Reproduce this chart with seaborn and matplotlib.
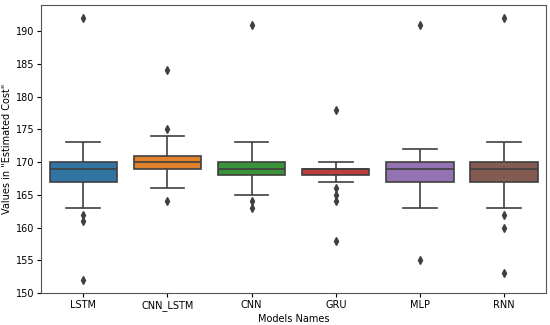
import pandas as pd
import matplotlib
matplotlib.use("Agg")
import matplotlib.pyplot as plt
import seaborn as sns

models = ['LSTM', 'CNN_LSTM', 'CNN', 'GRU', 'MLP', 'RNN']

lstm = [152, 161, 162, 163, 165, 167, 167, 168, 168, 169, 169, 169, 170, 170, 170, 170, 171, 172, 173, 173, 192]
cnn_lstm = [164, 166, 167, 168, 169, 169, 169, 170, 170, 170, 170, 170, 171, 171, 171, 171, 172, 173, 174, 175, 184]
cnn = [163, 164, 165, 166, 167, 168, 168, 168, 169, 169, 169, 169, 169, 170, 170, 170, 171, 171, 172, 173, 191]
gru = [158, 164, 165, 166, 167, 168, 168, 168, 168, 169, 169, 169, 169, 169, 169, 169, 169, 170, 170, 170, 178]
mlp = [155, 163, 164, 165, 166, 167, 167, 168, 168, 169, 169, 169, 169, 170, 170, 170, 170, 171, 171, 172, 191]
rnn = [153, 160, 162, 163, 165, 167, 167, 168, 168, 169, 169, 169, 170, 170, 170, 170, 171, 171, 172, 173, 192]

series = [lstm, cnn_lstm, cnn, gru, mlp, rnn]
df = pd.DataFrame({
    'model': [m for m, s in zip(models, series) for _ in s],
    'cost': [v for s in series for v in s],
})

fig, ax = plt.subplots(figsize=(5.5, 3.25), dpi=100)
sns.boxplot(data=df, x='model', y='cost', hue='model', palette='tab10',
            saturation=0.75, linecolor='#3f3f3f', linewidth=1.2, width=0.8,
            flierprops=dict(marker='d', markersize=4, markerfacecolor='#3f3f3f',
                            markeredgecolor='#3f3f3f'),
            legend=False, ax=ax)
ax.set_xlabel('Models Names', fontsize=7, labelpad=2)
ax.set_ylabel('Values in "Estimated Cost"', fontsize=7, labelpad=3)
ax.tick_params(labelsize=7, pad=2, length=3)
for sp in ax.spines.values():
    sp.set_color('#555555')
fig.subplots_adjust(left=0.075, right=0.993, top=0.985, bottom=0.098)
fig.savefig('out.png', dpi=100)
